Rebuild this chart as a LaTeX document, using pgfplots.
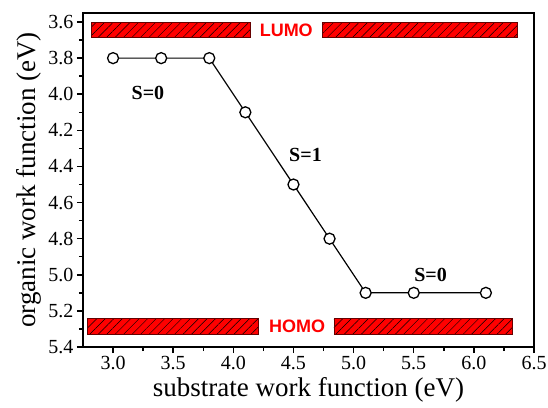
\documentclass[border=0pt]{standalone}
\usepackage{fontspec}
\setmainfont{Liberation Serif}
\setsansfont{Liberation Sans}
\usepackage{pgfplots}
\pgfplotsset{compat=1.18}
\usetikzlibrary{patterns.meta}

\begin{document}
\begin{tikzpicture}
% page frame: plotting area is 451pt x 334pt with its lower left corner at the origin
\useasboundingbox (-83pt,-60pt) rectangle (465pt,347pt);
\begin{axis}[
  at={(0pt,0pt)}, anchor=south west,
  scale only axis,
  width=451pt, height=334pt,
  xmin=2.75, xmax=6.5,
  ymin=3.55, ymax=5.4,
  y dir=reverse,
  clip=false,
  axis line style={line width=2pt},
  xtick={3.0,3.5,4.0,4.5,5.0,5.5,6.0,6.5},
  ytick={3.6,3.8,4.0,4.2,4.4,4.6,4.8,5.0,5.2,5.4},
  minor x tick num=1,
  minor y tick num=1,
  xtick pos=bottom, ytick pos=left,
  tick align=outside,
  major tick length=6pt, minor tick length=4pt,
  tick style={line width=1.5pt, black},
  tick label style={font=\rmfamily\fontsize{20}{24}\selectfont},
  xticklabel={\pgfmathprintnumber[fixed,fixed zerofill,precision=1,assume math mode=true]{\tick}},
  yticklabel={\pgfmathprintnumber[fixed,fixed zerofill,precision=1,assume math mode=true]{\tick}},
  xlabel={substrate work function (eV)},
  ylabel={organic work function (eV)},
  label style={font=\rmfamily\fontsize{27}{32}\selectfont},
]
% LUMO level band (two hatched pieces)
\addplot[fill=red, draw=black!60!red, line width=0.6pt,
  postaction={pattern={Lines[angle=45,distance=6pt,line width=0.45pt]}, pattern color=black}]
  coordinates {(2.82,3.603) (4.14,3.603) (4.14,3.686) (2.82,3.686)} -- cycle;
\addplot[fill=red, draw=black!60!red, line width=0.6pt,
  postaction={pattern={Lines[angle=45,distance=6pt,line width=0.45pt]}, pattern color=black}]
  coordinates {(4.74,3.603) (6.36,3.603) (6.36,3.686) (4.74,3.686)} -- cycle;
% HOMO level band
\addplot[fill=red, draw=black!60!red, line width=0.6pt,
  postaction={pattern={Lines[angle=45,distance=6pt,line width=0.45pt]}, pattern color=black}]
  coordinates {(2.785,5.243) (4.205,5.243) (4.205,5.330) (2.785,5.330)} -- cycle;
\addplot[fill=red, draw=black!60!red, line width=0.6pt,
  postaction={pattern={Lines[angle=45,distance=6pt,line width=0.45pt]}, pattern color=black}]
  coordinates {(4.836,5.243) (6.317,5.243) (6.317,5.330) (4.836,5.330)} -- cycle;

\node[font=\sffamily\bfseries\fontsize{18}{18}\selectfont, text=red] at (axis cs:4.44,3.645) {LUMO};
\node[font=\sffamily\bfseries\fontsize{18}{18}\selectfont, text=red] at (axis cs:4.53,5.287) {HOMO};

% organic work function vs substrate work function
\addplot[black, line width=1.2pt, mark=*, mark size=5.5pt,
  mark options={fill=white, line width=1.3pt}]
  coordinates {(3.0,3.8) (3.4,3.8) (3.8,3.8) (4.1,4.1) (4.5,4.5)
               (4.8,4.8) (5.1,5.1) (5.5,5.1) (6.1,5.1)};

\node[font=\bfseries\fontsize{20}{20}\selectfont] at (axis cs:3.29,3.995) {S=0};
\node[font=\bfseries\fontsize{20}{20}\selectfont] at (axis cs:4.60,4.338) {S=1};
\node[font=\bfseries\fontsize{20}{20}\selectfont] at (axis cs:5.64,5.0) {S=0};
\end{axis}
\end{tikzpicture}
\end{document}
